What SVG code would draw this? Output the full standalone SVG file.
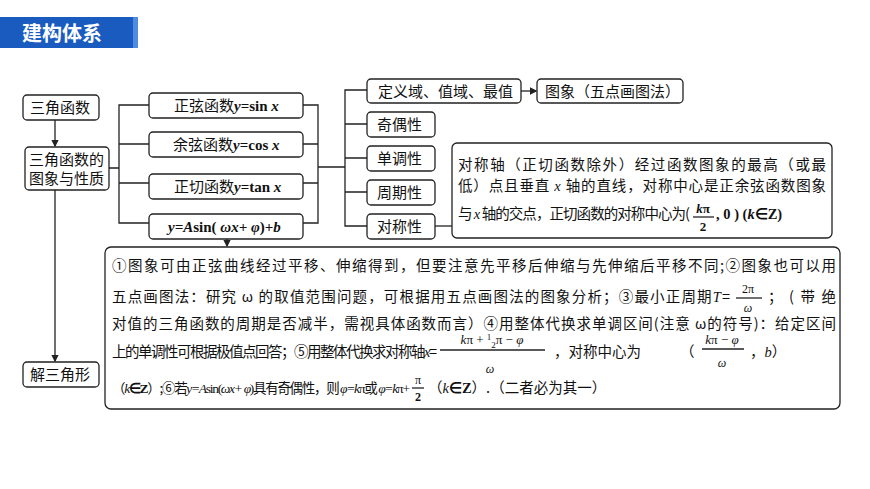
<svg xmlns="http://www.w3.org/2000/svg" width="870" height="489" viewBox="0 0 870 489">
<style>
text{font-family:"Noto Sans CJK SC","Liberation Serif",serif;fill:#111}
.r{font-family:"Liberation Serif",serif}
.i{font-style:italic}
.w{font-weight:bold}
.b{fill:#fff;stroke:#222;stroke-width:1.3}
.t{font-size:15px}
.s{font-size:14.5px}
.m{font-size:12px}
.l{stroke:#222;stroke-width:1.3;fill:none}
</style>
<defs><marker id="a" markerWidth="6" markerHeight="6" refX="5" refY="3" orient="auto"><path d="M0,0L6,3L0,6z" fill="#222"/></marker></defs>
<rect width="870" height="489" fill="#fff"/>
<g id="header"><rect x="0" y="17" width="133" height="31" fill="#1a5bbf"/><rect x="133" y="17" width="5" height="31" fill="#4f8be0"/><text x="22" y="41" font-size="20" font-weight="bold" style="fill:#fff">建构体系</text></g>
<g id="connectors">
<line class="l" x1="55" y1="120" x2="55" y2="146" marker-end="url(#a)"/>
<line class="l" x1="55" y1="190" x2="55" y2="361" marker-end="url(#a)"/>
<path class="l" d="M109,168H119M149,105H119V223H149M119,144H149M119,183H149"/>
<path class="l" d="M303,105H318V223H303M303,144H318M303,183H318M318,167H345"/>
<path class="l" d="M367,90H345V226H367M345,124H367M345,158H367M345,192H367"/>
<line class="l" x1="521" y1="91" x2="536" y2="91" marker-end="url(#a)"/>
<line class="l" x1="435" y1="226" x2="452" y2="226"/>
<line class="l" x1="227" y1="239" x2="227" y2="246" marker-end="url(#a)"/>
</g>
<g id="n1"><rect class="b" x="23" y="95" width="76" height="25" rx="4"/><text class="t" x="30" y="113">三角函数</text></g>
<g id="n2"><rect class="b" x="25" y="147" width="84" height="43" rx="4"/><text class="t" x="29" y="165">三角函数的</text><text class="t" x="29" y="184">图象与性质</text></g>
<g id="n3"><rect class="b" x="23" y="362" width="76" height="25" rx="4"/><text class="t" x="30" y="380">解三角形</text></g>
<g id="m1"><rect class="b" x="149" y="93" width="154" height="25" rx="4"/><text class="t" x="174" y="111">正弦函数<tspan class="r w i">y</tspan><tspan class="r w">=sin </tspan><tspan class="r w i">x</tspan></text></g>
<g id="m2"><rect class="b" x="149" y="132" width="154" height="25" rx="4"/><text class="t" x="173" y="150">余弦函数<tspan class="r w i">y</tspan><tspan class="r w">=cos </tspan><tspan class="r w i">x</tspan></text></g>
<g id="m3"><rect class="b" x="149" y="174" width="154" height="25" rx="4"/><text class="t" x="174" y="192">正切函数<tspan class="r w i">y</tspan><tspan class="r w">=tan </tspan><tspan class="r w i">x</tspan></text></g>
<g id="m4"><rect class="b" x="149" y="214" width="154" height="25" rx="4"/><text class="r w i" x="168" y="232" font-size="15">y=A<tspan style="font-style:normal">sin(</tspan> ωx+ φ<tspan style="font-style:normal">)+</tspan>b</text></g>
<g id="r1"><rect class="b" x="367" y="79" width="154" height="24" rx="4"/><text class="t" x="378" y="97">定义域、值域、最值</text></g>
<g id="r0"><rect class="b" x="537" y="79" width="146" height="24" rx="4"/><text class="t" x="545" y="97">图象（五点画图法）</text></g>
<g id="r2"><rect class="b" x="367" y="112" width="68" height="25" rx="4"/><text class="t" x="377" y="130">奇偶性</text></g>
<g id="r3"><rect class="b" x="367" y="146" width="68" height="25" rx="4"/><text class="t" x="377" y="164">单调性</text></g>
<g id="r4"><rect class="b" x="367" y="180" width="68" height="25" rx="4"/><text class="t" x="377" y="198">周期性</text></g>
<g id="r5"><rect class="b" x="367" y="214" width="68" height="25" rx="4"/><text class="t" x="377" y="232">对称性</text></g>
<g id="sym"><rect class="b" x="452" y="143" width="380" height="95" rx="5"/>
<text class="s" x="458" y="170" textLength="368">对称轴（正切函数除外）经过函数图象的最高（或最</text>
<text class="s" x="458" y="191" textLength="368">低）点且垂直 <tspan class="r i">x</tspan> 轴的直线，对称中心是正余弦函数图象</text>
<text class="s" x="458" y="219" textLength="232">与 <tspan class="r i">x</tspan> 轴的交点，正切函数的对称中心为(</text>
<text x="703" y="213" font-size="13" class="r w" text-anchor="middle"><tspan class="i">k</tspan>π</text><line class="l" x1="693" y1="217" x2="714" y2="217" stroke-width="1"/><text x="703" y="231" font-size="13" class="r w" text-anchor="middle">2</text>
<text x="716" y="219" font-size="14.5" class="r w">, 0 ) (<tspan class="i">k</tspan>∈Z)</text></g>
<g id="notes"><rect class="b" x="105" y="247" width="735" height="162" rx="6"/>
<text class="s" x="112" y="271" textLength="724">①图象可由正弦曲线经过平移、伸缩得到，但要注意先平移后伸缩与先伸缩后平移不同;②图象也可以用</text>
<text class="s" x="112" y="302" textLength="618">五点画图法：研究 ω 的取值范围问题，可根据用五点画图法的图象分析；③最小正周期<tspan class="r i">T</tspan>=</text>
<text x="748" y="293" class="m r" text-anchor="middle">2π</text><line class="l" x1="736" y1="298" x2="762" y2="298" stroke-width="1"/><text x="748" y="312" class="m r i" text-anchor="middle">ω</text>
<text class="s" x="768" y="302" textLength="68">；(带绝</text>
<text class="s" x="112" y="329" textLength="724">对值的三角函数的周期是否减半，需视具体函数而言）④用整体代换求单调区间(注意 ω的符号)：给定区间</text>
<text class="s" x="112" y="357" textLength="325">上的单调性可根据极值点回答；⑤用整体代换求对称轴<tspan class="r i">x</tspan>=</text>
<text x="492" y="344" font-size="13" text-anchor="middle" class="r i">k<tspan style="font-style:normal">π + </tspan><tspan font-size="9" dy="-4" style="font-style:normal">1</tspan><tspan font-size="9" dy="8" style="font-style:normal">2</tspan><tspan dy="-4" style="font-style:normal">π − </tspan>φ</text>
<line class="l" x1="440" y1="350" x2="545" y2="350" stroke-width="1"/><text x="490" y="373" class="m r i" text-anchor="middle">ω</text>
<text class="s" x="554" y="357">，对称中心为</text>
<text class="s" x="680" y="357">（</text>
<text x="722" y="344" font-size="13" text-anchor="middle" class="r i">k<tspan style="font-style:normal">π − </tspan>φ</text>
<line class="l" x1="702" y1="349" x2="744" y2="349" stroke-width="1"/><text x="722" y="367" class="m r i" text-anchor="middle">ω</text>
<text class="s" x="750" y="357">，<tspan class="r i">b</tspan>）</text>
<text x="112" y="393" font-size="13.5" textLength="298">（<tspan class="r i">k</tspan><tspan class="r w">∈Z</tspan>）;⑥若<tspan class="r i">y=A</tspan><tspan class="r">sin(</tspan><tspan class="r i">ωx+ φ</tspan><tspan class="r">)</tspan>具有奇偶性，则 <tspan class="r i">φ=k</tspan><tspan class="r">π</tspan>或 <tspan class="r i">φ=k</tspan><tspan class="r">π+</tspan></text>
<text x="418" y="384" class="m r" text-anchor="middle">π</text><line class="l" x1="412" y1="388" x2="424" y2="388" stroke-width="1"/><text x="418" y="401" class="m r w" text-anchor="middle">2</text>
<text class="s" x="428" y="393">（<tspan class="r i">k</tspan><tspan class="r w">∈Z</tspan>）.（二者必为其一）</text>
</g>
</svg>
